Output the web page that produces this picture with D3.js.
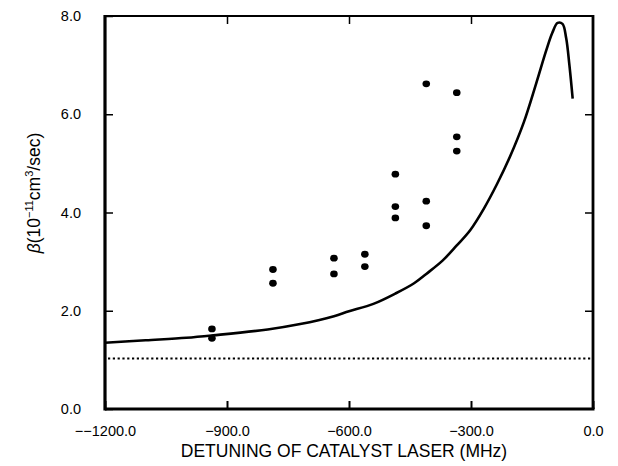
<!DOCTYPE html>
<html>
<head>
<meta charset="utf-8">
<script src="https://cdn.jsdelivr.net/npm/d3@7"></script>
</head>
<body style="margin:0">
<script>

// measured points (detuning MHz, beta)
let pointX = [-937, -937, -787, -787, -637, -637, -561, -561, -486, -486, -486, -410, -410, -410, -335, -335, -335];
let pointY = [1.63, 1.44, 2.84, 2.56, 3.07, 2.75, 3.15, 2.90, 4.78, 4.12, 3.89, 6.62, 4.23, 3.73, 6.44, 5.54, 5.25];

// theory curve
let curveX = [-1200, -1100, -1000, -934, -800, -720, -637, -600, -540, -486, -440, -410, -370, -335, -302, -269, -236, -204, -170, -140, -115, -100, -87, -75, -66, -58, -50];
let curveY = [1.35, 1.40, 1.45, 1.50, 1.62, 1.73, 1.89, 1.99, 2.14, 2.35, 2.56, 2.75, 3.02, 3.33, 3.64, 4.07, 4.58, 5.14, 5.84, 6.62, 7.30, 7.66, 7.86, 7.84, 7.55, 7.00, 6.32];

// dotted baseline
let baseLevel = 1.03;

let xTicks = [-1200, -900, -600, -300, 0];
let yTicks = [0, 2, 4, 6, 8];

let plotLeft = 105, plotRight = 593, plotTop = 16, plotBottom = 409;

let svg = d3.select("body").append("svg")
	.attr("width", 618)
	.attr("height", 466)
	.attr("font-family", "'Liberation Sans', Arial, sans-serif");

let xScale = d3.scaleLinear().domain([-1200, 0]).range([plotLeft, plotRight]);
let yScale = d3.scaleLinear().domain([0, 8]).range([plotBottom, plotTop]);

// frame
svg.append("rect")
	.attr("x", plotLeft).attr("y", plotTop)
	.attr("width", plotRight - plotLeft).attr("height", plotBottom - plotTop)
	.attr("fill", "none").attr("stroke", "black").attr("stroke-width", 2);
svg.append("line")
	.attr("x1", plotLeft).attr("x2", plotLeft).attr("y1", plotTop - 1).attr("y2", plotBottom + 1.5)
	.attr("stroke", "black").attr("stroke-width", 3.2);
svg.append("line")
	.attr("x1", plotLeft).attr("x2", plotRight + 1.5).attr("y1", plotBottom).attr("y2", plotBottom)
	.attr("stroke", "black").attr("stroke-width", 3);
svg.append("line")
	.attr("x1", plotRight).attr("x2", plotRight).attr("y1", plotTop - 1).attr("y2", plotBottom)
	.attr("stroke", "black").attr("stroke-width", 2.8);

// inward ticks on all four sides
let tickLen = 8;
let xFmt = function (d) {
	if (d === -1200) return "\u2212\u22121200.0";
	return (d < 0 ? "\u2212" : "") + Math.abs(d).toFixed(1);
};

svg.append("g")
	.attr("transform", "translate(0," + plotBottom + ")")
	.call(d3.axisBottom(xScale).tickValues(xTicks).tickSizeInner(-tickLen).tickSizeOuter(0).tickPadding(17).tickFormat(xFmt))
	.call(function (g) { g.select(".domain").remove(); })
	.call(function (g) { g.selectAll(".tick line").attr("stroke", "black").attr("stroke-width", 2); })
	.call(function (g) { g.selectAll("text").attr("font-size", 14.5); });

svg.append("g")
	.attr("transform", "translate(0," + plotTop + ")")
	.call(d3.axisTop(xScale).tickValues(xTicks.slice(1, 4)).tickSizeInner(-tickLen).tickSizeOuter(0).tickFormat(""))
	.call(function (g) { g.select(".domain").remove(); })
	.call(function (g) { g.selectAll(".tick line").attr("stroke", "black").attr("stroke-width", 1.5); });

svg.append("g")
	.attr("transform", "translate(" + plotLeft + ",0)")
	.call(d3.axisLeft(yScale).tickValues(yTicks).tickSizeInner(-tickLen).tickSizeOuter(0).tickPadding(24).tickFormat(d3.format(".1f")))
	.call(function (g) { g.select(".domain").remove(); })
	.call(function (g) { g.selectAll(".tick line").attr("stroke", "black").attr("stroke-width", 1.5); })
	.call(function (g) { g.selectAll("text").attr("font-size", 14.5); });

svg.append("g")
	.attr("transform", "translate(" + plotRight + ",0)")
	.call(d3.axisRight(yScale).tickValues(yTicks.slice(1, 4)).tickSizeInner(-tickLen).tickSizeOuter(0).tickFormat(""))
	.call(function (g) { g.select(".domain").remove(); })
	.call(function (g) { g.selectAll(".tick line").attr("stroke", "black").attr("stroke-width", 1.5); });

// dotted line
svg.append("line")
	.attr("x1", xScale(-1200) + 3).attr("x2", plotRight - 2)
	.attr("y1", yScale(baseLevel)).attr("y2", yScale(baseLevel))
	.attr("stroke", "black").attr("stroke-width", 2)
	.attr("stroke-dasharray", "2.2,2.6");

// curve
let curveLine = d3.line()
	.x(function (d, i) { return xScale(curveX[i]); })
	.y(function (d, i) { return yScale(curveY[i]); })
	.curve(d3.curveCatmullRom);

svg.append("path")
	.datum(curveX)
	.attr("d", curveLine)
	.attr("fill", "none")
	.attr("stroke", "black")
	.attr("stroke-width", 2.6);

// data points
svg.selectAll(".pt")
	.data(pointX)
	.enter()
	.append("ellipse")
	.attr("class", "pt")
	.attr("cx", function (d) { return xScale(d); })
	.attr("cy", function (d, i) { return yScale(pointY[i]); })
	.attr("rx", 3.8)
	.attr("ry", 3.4)
	.attr("fill", "black");

// axis titles
svg.append("text")
	.attr("x", (plotLeft + plotRight) / 2 - 5)
	.attr("y", 457)
	.attr("text-anchor", "middle")
	.attr("font-size", 17.5)
	.text("DETUNING OF CATALYST LASER (MHz)");

let yLab = svg.append("text")
	.attr("transform", "translate(40,193) rotate(-90)")
	.attr("text-anchor", "middle")
	.attr("font-size", 17.5);
yLab.append("tspan").attr("font-style", "italic").text("\u03b2");
yLab.append("tspan").text("(10");
yLab.append("tspan").attr("dy", -7).attr("font-size", 11).text("\u221211");
yLab.append("tspan").attr("dy", 7).text("cm");
yLab.append("tspan").attr("dy", -7).attr("font-size", 11).text("3");
yLab.append("tspan").attr("dy", 7).text("/sec)");
</script>
</body>
</html>
